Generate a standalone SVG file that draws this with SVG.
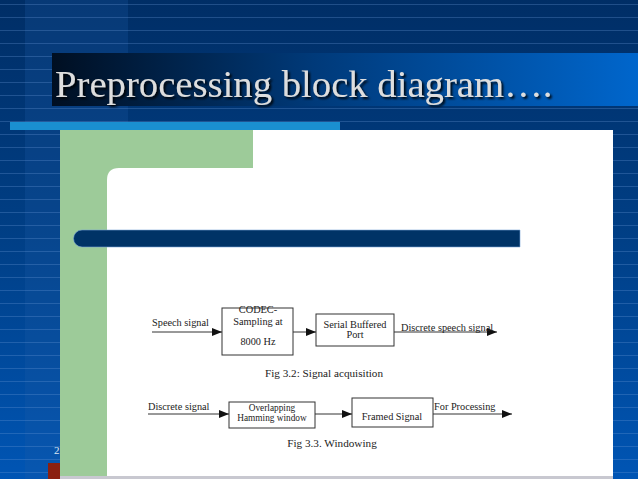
<svg xmlns="http://www.w3.org/2000/svg" width="638" height="479" viewBox="0 0 638 479">
<defs>
<linearGradient id="bg" x1="0" y1="0" x2="0" y2="1">
<stop offset="0" stop-color="#002e66"/>
<stop offset="0.5" stop-color="#003f86"/>
<stop offset="1" stop-color="#0055b4"/>
</linearGradient>
<linearGradient id="tb" x1="0" y1="0" x2="1" y2="0">
<stop offset="0" stop-color="#000f22"/>
<stop offset="0.45" stop-color="#003a7a"/>
<stop offset="1" stop-color="#0066cc"/>
</linearGradient>
<pattern id="lines" width="638" height="13" patternUnits="userSpaceOnUse">
<rect x="0" y="4" width="638" height="1" fill="#6a9ad8" opacity="0.3"/>
</pattern>
<marker id="ah" viewBox="0 0 10 8" refX="10" refY="4" markerWidth="10" markerHeight="8" markerUnits="userSpaceOnUse" orient="auto">
<path d="M0,0 L10,4 L0,8 Z" fill="#111"/>
</marker>
<filter id="sh" x="-5%" y="-20%" width="110%" height="140%">
<feDropShadow dx="2" dy="2" stdDeviation="0.8" flood-color="#000" flood-opacity="0.9"/>
</filter>
</defs>
<style>
.lbl{font-family:"Liberation Serif","Times New Roman",serif;font-size:10.3px;fill:#222}
.sm{font-size:9.3px}
.cap{font-family:"Liberation Serif","Times New Roman",serif;font-size:11.2px;fill:#222}
.box{fill:#fff;stroke:#333;stroke-width:1}
.wire{stroke:#333;stroke-width:1;fill:none;marker-end:url(#ah)}
</style>
<!-- background -->
<rect width="638" height="479" fill="url(#bg)"/>
<rect x="25" y="0" width="103" height="479" fill="#1a5aa8" opacity="0.25"/>
<rect width="638" height="479" fill="url(#lines)"/>
<!-- title bar -->
<rect x="52" y="53" width="586" height="53" fill="url(#tb)"/>
<text x="55" y="97" font-family="'Liberation Serif','Times New Roman',serif" font-size="38.7" fill="#dedede" filter="url(#sh)">Preprocessing block diagram….</text>
<!-- cyan bar -->
<rect x="10" y="122" width="330" height="8" fill="#1a8fd0"/>
<!-- panel -->
<rect x="60" y="130" width="553" height="348" fill="#fff"/>
<path d="M60,130 H253 V168 H119 Q107,168 107,180 V478 H60 Z" fill="#9dcb99"/>
<!-- dark bar -->
<path d="M82,230 H520 V247 H82 A8.5,8.5 0 0 1 82,230 Z" fill="#003366" stroke="#7aa6d6" stroke-width="0.6"/>
<!-- slide number and red mark -->
<text x="54" y="454" font-family="'Liberation Serif','Times New Roman',serif" font-size="11" fill="#dde6f2">2</text>
<rect x="48" y="463" width="12" height="16" fill="#8b2010"/>
<rect x="60" y="476" width="553" height="3" fill="#c8c8d0"/>
<!-- nodes fig 3.2 -->
<g id="codec">
<rect class="box" x="222" y="308" width="71" height="47"/>
<text class="lbl" x="258" y="313" text-anchor="middle">CODEC-</text>
<text class="lbl" x="258" y="325" text-anchor="middle">Sampling at</text>
<text class="lbl" x="258" y="345" text-anchor="middle">8000 Hz</text>
</g>
<g id="sbp">
<rect class="box" x="316" y="314" width="78" height="32"/>
<text class="lbl" x="355" y="328" text-anchor="middle">Serial Buffered</text>
<text class="lbl" x="355" y="338" text-anchor="middle">Port</text>
</g>
<!-- nodes fig 3.3 -->
<g id="ham">
<rect class="box" x="229" y="402" width="86" height="26"/>
<text class="lbl sm" x="272" y="410.5" text-anchor="middle">Overlapping</text>
<text class="lbl sm" x="272" y="420.5" text-anchor="middle">Hamming window</text>
</g>
<g id="framed">
<rect class="box" x="352" y="398" width="81" height="29"/>
<text class="lbl" x="392" y="420" text-anchor="middle">Framed Signal</text>
</g>
<!-- connectors -->
<g id="connectors">
<line class="wire" x1="152" y1="332" x2="222" y2="332"/>
<line class="wire" x1="293" y1="332" x2="316" y2="332"/>
<line class="wire" x1="394" y1="332" x2="497" y2="332"/>
<line class="wire" x1="148" y1="414" x2="229" y2="414"/>
<line class="wire" x1="315" y1="414" x2="352" y2="414"/>
<line class="wire" x1="433" y1="414" x2="512" y2="414"/>
</g>
<!-- labels -->
<text class="lbl" x="152" y="326">Speech signal</text>
<text class="lbl" x="401" y="331">Discrete speech signal</text>
<text class="cap" x="324" y="377" text-anchor="middle">Fig 3.2: Signal acquisition</text>
<text class="lbl" x="148" y="410">Discrete signal</text>
<text class="lbl" x="434" y="410">For Processing</text>
<text class="cap" x="332" y="447" text-anchor="middle">Fig 3.3. Windowing</text>
</svg>
